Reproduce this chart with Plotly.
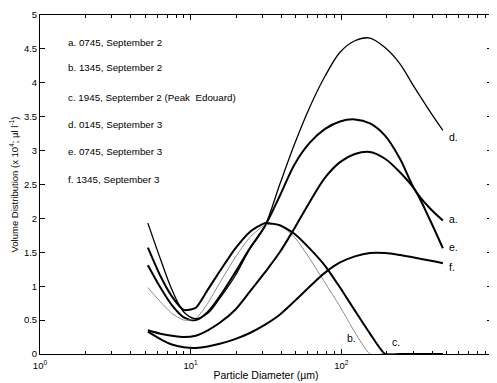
import math
import plotly.graph_objects as go

# ---- data: particle diameter (um) and volume distribution (x10^4 ul/l) ----
diameter = [5.2, 6.3, 7.5, 9.0, 10.8, 13.0, 15.6, 19.7, 24.7, 31.0, 39.0, 49.0,
            62.0, 78.0, 98.0, 123.0, 155.0, 195.0, 245.0, 308.0, 387.0, 472.0]

a_y = [1.31, 0.98, 0.72, 0.54, 0.50, 0.62, 0.85, 1.20, 1.56, 1.88, 2.33, 2.80,
       3.12, 3.32, 3.43, 3.46, 3.40, 3.22, 2.88, 2.42, 2.15, 1.97]
b_y = [0.98, 0.77, 0.60, 0.50, 0.52, 0.75, 1.05, 1.42, 1.72, 1.90, 1.90, 1.72,
       1.40, 1.05, 0.70, 0.32, 0.0, 0.0, 0.0, 0.0, 0.0, 0.0]
c_y = [1.57, 1.15, 0.85, 0.65, 0.68, 0.95, 1.22, 1.55, 1.80, 1.93, 1.90, 1.77,
       1.55, 1.30, 0.98, 0.64, 0.30, 0.0, 0.0, 0.0, 0.0, 0.0]
d_y = [1.93, 1.40, 0.95, 0.62, 0.52, 0.60, 0.82, 1.15, 1.55, 1.88, 2.50, 3.10,
       3.65, 4.10, 4.45, 4.62, 4.66, 4.52, 4.28, 3.92, 3.58, 3.30]
e_y = [0.35, 0.30, 0.27, 0.25, 0.27, 0.35, 0.46, 0.65, 0.92, 1.20, 1.50, 1.86,
       2.25, 2.60, 2.83, 2.95, 2.98, 2.88, 2.68, 2.42, 1.98, 1.56]
f_y = [0.33, 0.22, 0.14, 0.10, 0.09, 0.11, 0.15, 0.22, 0.31, 0.43, 0.58, 0.78,
       1.00, 1.20, 1.35, 1.44, 1.49, 1.49, 1.46, 1.42, 1.38, 1.34]

legend_lines = [
    "a. 0745, September 2",
    "b. 1345, September 2",
    "c. 1945, September 2 (Peak  Edouard)",
    "d. 0145, September 3",
    "e. 0745, September 3",
    "f. 1345, September 3",
]
legend_y = [4.59, 4.23, 3.78, 3.39, 2.99, 2.58]

end_label_text = ["d.", "a.", "e.", "f.", "b.", "c."]
end_label_x = [505, 505, 505, 505, 106, 210]
end_label_y = [3.2, 1.99, 1.58, 1.28, 0.24, 0.18]

x_tickvals = [1, 10, 100, 1000]
x_ticktext = ["10<sup>0</sup>", "10<sup>1</sup>", "10<sup>2</sup>", "10<sup>3</sup>"]
y_tickvals = [0, 0.5, 1, 1.5, 2, 2.5, 3, 3.5, 4, 4.5, 5]
y_ticktext = ["0", "0.5", "1", "1.5", "2", "2.5", "3", "3.5", "4", "4.5", "5"]
minor_vals = [m * 10 ** k for k in range(3) for m in range(2, 10)]

series = [
    ("a", a_y, "black", 2.0, 0.9),
    ("b", b_y, "#8c8c8c", 1.0, 0.55),
    ("c", c_y, "black", 2.0, 0.55),
    ("d", d_y, "black", 1.3, 0.9),
    ("e", e_y, "black", 2.0, 0.9),
    ("f", f_y, "black", 2.0, 0.9),
]

FAM = "Liberation Sans, Arial, sans-serif"

fig = go.Figure()
for name, ys, col, w, sm in series:
    fig.add_trace(go.Scatter(
        x=diameter, y=ys, mode="lines", name=name,
        line=dict(color=col, width=w, shape="spline", smoothing=sm),
        showlegend=False, hoverinfo="skip",
    ))

for txt, x, y in zip(end_label_text, end_label_x, end_label_y):
    fig.add_annotation(x=math.log10(x), y=y, text=txt, showarrow=False,
                       xanchor="left", yanchor="middle",
                       font=dict(family=FAM, size=10.5, color="black"))

for txt, y in zip(legend_lines, legend_y):
    fig.add_annotation(xref="paper", x=0.058, y=y, text=txt, showarrow=False,
                       xanchor="left", yanchor="middle",
                       font=dict(family=FAM, size=9.8, color="black"))

fig.update_layout(
    width=489, height=375,
    margin=dict(l=32, r=5, t=7, b=29),
    paper_bgcolor="white", plot_bgcolor="white",
    font=dict(family=FAM, size=9, color="black"),
)
fig.update_xaxes(
    type="log", range=[0, 3],
    tickvals=x_tickvals, ticktext=x_ticktext,
    ticks="inside", ticklen=5, tickcolor="black",
    ticklabelstandoff=3,
    minor=dict(tickvals=minor_vals, ticks="inside", ticklen=3, tickcolor="black", showgrid=False),
    showline=True, linecolor="black", linewidth=1, mirror="ticks",
    showgrid=False, zeroline=False,
    tickfont=dict(family=FAM, size=9.5),
    title=dict(text="Particle Diameter (\u00b5m)", standoff=1, font=dict(family=FAM, size=10.5)),
    automargin=False,
)
fig.update_yaxes(
    range=[0, 5],
    tickvals=y_tickvals, ticktext=y_ticktext,
    ticks="inside", ticklen=5, tickcolor="black",
    showline=True, linecolor="black", linewidth=1, mirror="ticks",
    showgrid=False, zeroline=False,
    tickfont=dict(family=FAM, size=9.5),
    title=dict(text="Volume Distribution (x 10<sup>4</sup>; \u00b5l l<sup>-1</sup>)", standoff=3,
               font=dict(family=FAM, size=9.5)),
    automargin=False,
)

fig.write_html("out.html")
